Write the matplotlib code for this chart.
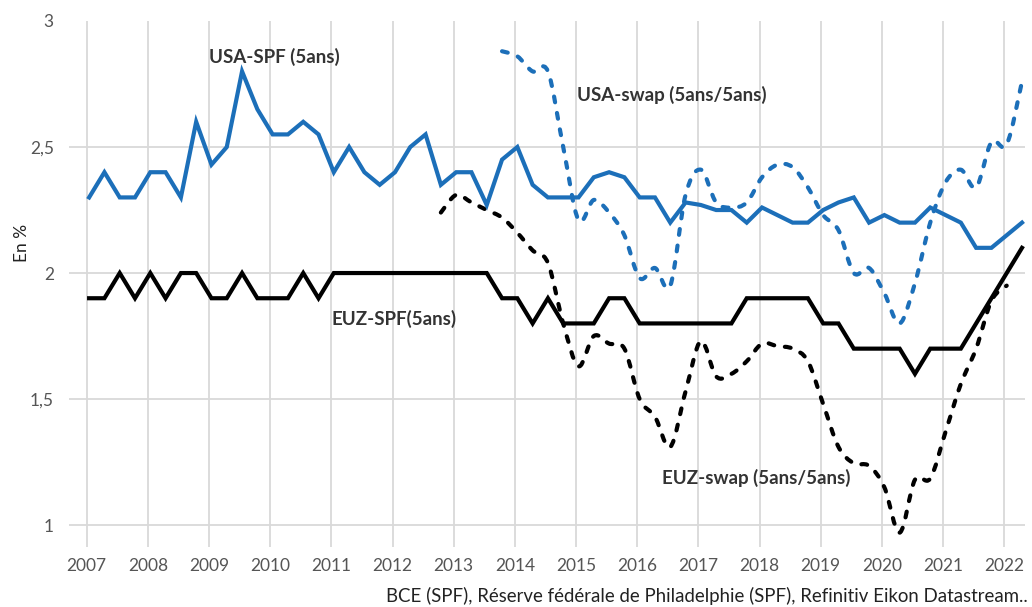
import numpy as np
import pandas as pd
import matplotlib
matplotlib.use("Agg")
import matplotlib.pyplot as plt
from matplotlib.path import Path
from matplotlib.patches import PathPatch

# ---------------- data (quarterly, 2007Q1 .. 2022Q2) ----------------
quarters = pd.period_range("2007Q1", "2022Q2", freq="Q")

usa_spf = [2.30, 2.40, 2.30, 2.30, 2.40, 2.40, 2.30, 2.60, 2.43, 2.50,
           2.80, 2.65, 2.55, 2.55, 2.60, 2.55, 2.40, 2.50, 2.40, 2.35,
           2.40, 2.50, 2.55, 2.35, 2.40, 2.40, 2.27, 2.45, 2.50, 2.35,
           2.30, 2.30, 2.30, 2.38, 2.40, 2.38, 2.30, 2.30, 2.20, 2.28,
           2.27, 2.25, 2.25, 2.20, 2.26, 2.23, 2.20, 2.20, 2.25, 2.28,
           2.30, 2.20, 2.23, 2.20, 2.20, 2.26, 2.23, 2.20, 2.10, 2.10,
           2.15, 2.20]

euz_spf = [1.90, 1.90, 2.00, 1.90, 2.00, 1.90, 2.00, 2.00, 1.90, 1.90,
           2.00, 1.90, 1.90, 1.90, 2.00, 1.90, 2.00, 2.00, 2.00, 2.00,
           2.00, 2.00, 2.00, 2.00, 2.00, 2.00, 2.00, 1.90, 1.90, 1.80,
           1.90, 1.80, 1.80, 1.80, 1.90, 1.90, 1.80, 1.80, 1.80, 1.80,
           1.80, 1.80, 1.80, 1.90, 1.90, 1.90, 1.90, 1.90, 1.80, 1.80,
           1.70, 1.70, 1.70, 1.70, 1.60, 1.70, 1.70, 1.70, 1.80, 1.90,
           2.00, 2.10]

# USA swap 5y5y : from 2013Q4 to 2022Q2
usa_swap_start = "2013Q4"
usa_swap = [2.88, 2.86, 2.80, 2.80, 2.50, 2.21, 2.29, 2.24, 2.15, 1.98,
            2.02, 1.95, 2.31, 2.41, 2.28, 2.26, 2.28, 2.38, 2.43, 2.42,
            2.34, 2.23, 2.17, 2.00, 2.02, 1.92, 1.80, 1.96, 2.20, 2.36,
            2.41, 2.34, 2.52, 2.51, 2.76]

# EUZ swap 5y5y : from 2012Q4 to 2022Q1
euz_swap_start = "2012Q4"
euz_swap = [2.24, 2.31, 2.28, 2.25, 2.22, 2.16, 2.09, 2.04, 1.80, 1.63,
            1.75, 1.72, 1.70, 1.50, 1.43, 1.31, 1.53, 1.73, 1.59, 1.60,
            1.65, 1.72, 1.71, 1.70, 1.65, 1.48, 1.31, 1.245, 1.235, 1.15,
            0.97, 1.18, 1.185, 1.37, 1.56, 1.70, 1.89, 1.95]

year_ticks = list(range(2007, 2023))
y_ticks = [1, 1.5, 2, 2.5, 3]
y_tick_labels = ["1", "1,5", "2", "2,5", "3"]
y_label = "En %"
source = "BCE (SPF), Réserve fédérale de Philadelphie (SPF), Refinitiv Eikon Datastream.."

# ---------------- helpers ----------------
def to_year(periods):
    # observation dated mid-January of each quarter's first month
    return np.array([p.year + (p.quarter - 1) / 4 + 0.04 for p in periods])

x_all = to_year(quarters)
x_usa_swap = to_year(pd.period_range(usa_swap_start, periods=len(usa_swap), freq="Q"))
x_euz_swap = to_year(pd.period_range(euz_swap_start, periods=len(euz_swap), freq="Q"))


def smooth_path(x, y):
    pts = np.column_stack([x, y]).astype(float)
    verts = [pts[0]]
    codes = [Path.MOVETO]
    n = len(pts)
    for i in range(n - 1):
        p0 = pts[i - 1] if i > 0 else pts[i]
        p1 = pts[i]
        p2 = pts[i + 1]
        p3 = pts[i + 2] if i + 2 < n else pts[i + 1]
        c1 = p1 + (p2 - p0) / 6.0
        c2 = p2 - (p3 - p1) / 6.0
        verts += [c1, c2, p2]
        codes += [Path.CURVE4] * 3
    return Path(verts, codes)


# ---------------- figure ----------------
W, H = 1032, 607
fig = plt.figure(figsize=(W / 100, H / 100), dpi=100)
ax = fig.add_axes([69 / W, 60 / H, 956 / W, 526 / H])
ax.set_xlim(2006.711, 2022.339)
ax.set_ylim(0.913, 3.0)

blue = "#1c6fb9"
lw = 3.0
dash = (0, (1.4, 2.6))

for xs, ys, col in [(x_usa_swap, usa_swap, blue), (x_euz_swap, euz_swap, "black")]:
    patch = PathPatch(smooth_path(xs, ys), fill=False, edgecolor=col, lw=lw,
                      linestyle=dash, capstyle="round", joinstyle="round", zorder=3)
    ax.add_patch(patch)

ax.plot(x_all, usa_spf, color=blue, lw=lw, zorder=4, solid_joinstyle="miter")
ax.plot(x_all, euz_spf, color="black", lw=lw, zorder=4, solid_joinstyle="miter")

# axes styling
for s in ax.spines.values():
    s.set_visible(False)
ax.set_xticks(year_ticks)
ax.set_xticklabels([str(y) for y in year_ticks])
ax.set_yticks(y_ticks)
ax.set_yticklabels(y_tick_labels)
ax.tick_params(axis="both", length=0, labelsize=12.5, labelcolor="#555555")
ax.tick_params(axis="x", pad=8)
ax.tick_params(axis="y", pad=11)
for lab in ax.get_xticklabels() + ax.get_yticklabels():
    lab.set_fontfamily("Lato")
ax.grid(True, color="#d9d9d9", lw=1.3, zorder=0)
ax.set_axisbelow(True)
ax.get_ygridlines()[-1].set_visible(False)

# series labels
lab_kw = dict(fontsize=13.5, fontweight="bold", color="#333333", family="Lato",
              va="center", ha="left")
ax.text(2009.0, 2.857, "USA-SPF (5ans)", **lab_kw)
ax.text(2015.02, 2.706, "USA-swap (5ans/5ans)", **lab_kw)
ax.text(2011.0, 1.817, "EUZ-SPF(5ans)", **lab_kw)
ax.text(2016.4, 1.187, "EUZ-swap (5ans/5ans)", **lab_kw)

fig.text(22 / W, 1 - 243 / H, y_label, rotation=90, ha="center", va="center",
         fontsize=12.5, color="#222222", family="Lato")
fig.text(1028 / W, 1 - 596 / H, source, ha="right", va="center",
         fontsize=13.4, color="#222222", family="Lato")

fig.savefig("out.png", dpi=100)
